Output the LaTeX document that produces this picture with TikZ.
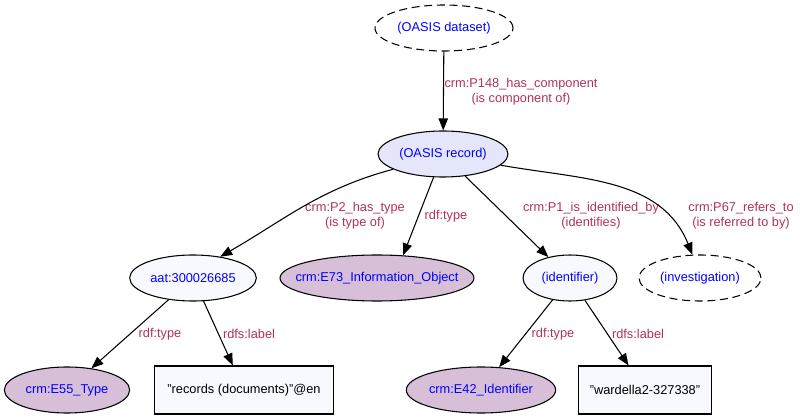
\documentclass[tikz,border=0pt]{standalone}
\usepackage{fontspec}
\setmainfont{Liberation Sans}
\usetikzlibrary{shapes.geometric,arrows.meta}
\definecolor{lbl}{HTML}{B03060}
\definecolor{recfill}{HTML}{E6E6FA}
\definecolor{ghost}{HTML}{F8F8FF}
\definecolor{thist}{HTML}{D8BFD8}
\tikzset{
  every node/.style={font=\fontsize{9.6}{11.25}\selectfont},
  ent/.style={ellipse, draw=black, line width=0.8pt, text=blue, inner sep=0pt, minimum height=34.5pt,
    execute at begin node={\hbox to 0pt\bgroup\hss}, execute at end node={\hss\egroup}},
  dashent/.style={ent, dash pattern=on 6pt off 3.5pt},
  cls/.style={ent, fill=thist},
  inst/.style={ent, fill=ghost},
  litbox/.style={rectangle, draw=black, line width=0.8pt, fill=ghost, text=black, inner sep=0pt, minimum height=36pt},
  elabel/.style={text=lbl, align=center, inner sep=1pt},
  edge/.style={draw=black, line width=0.8pt, -{Triangle[length=9pt,width=7pt]}}
}
\begin{document}
\begin{tikzpicture}[x=0.75pt,y=-0.75pt]
\useasboundingbox (0,0) rectangle (800,420);
% nodes
\node[dashent, minimum width=103.5pt] (ds) at (444,28) {(OASIS dataset)};
\node[ent, fill=recfill, minimum width=97.5pt] (rec) at (443,154) {(OASIS record)};
\node[inst, minimum width=95pt] (aat) at (193,278) {aat:300026685};
\node[cls, minimum width=145.5pt] (e73) at (377,278) {crm:E73\_Information\_Object};
\node[inst, minimum width=70.5pt] (ident) at (570,278) {(identifier)};
\node[dashent, minimum width=91.5pt] (inv) at (700,278) {(investigation)};
\node[cls, minimum width=94pt] (e55) at (67,390) {crm:E55\_Type};
\node[litbox, minimum width=134pt] (reclab) at (244,390) {"records (documents)"@en};
\node[cls, minimum width=112pt] (e42) at (481,390) {crm:E42\_Identifier};
\node[litbox, minimum width=100pt] (idlab) at (645,390) {"wardella2-327338"};
% edge labels
\node[elabel] (l1) at (521,92) {crm:P148\_has\_component\\(is component of)};
\node[elabel] (l2) at (355,216) {crm:P2\_has\_type\\(is type of)};
\node[elabel] (l3) at (446,216) {rdf:type};
\node[elabel] (l4) at (591,216) {crm:P1\_is\_identified\_by\\(identifies)};
\node[elabel] (l5) at (741,216) {crm:P67\_refers\_to\\(is referred to by)};
\node[elabel] (l6) at (160,334) {rdf:type};
\node[elabel] (l7) at (249,334) {rdfs:label};
\node[elabel] (l8) at (553,334) {rdf:type};
\node[elabel] (l9) at (638,334) {rdfs:label};
% edges
\draw[edge] (ds) -- (rec);
\draw[edge] (rec.197) to[out=195,in=30] (aat.38);
\draw[edge] (rec.248) -- (e73.41);
\draw[edge] (rec.315) -- (ident.136);
\draw[edge] (rec.349) to[out=-10,in=112] (inv.108);
\draw[edge] (aat) -- (e55);
\draw[edge] (aat) -- (reclab);
\draw[edge] (ident) -- (e42);
\draw[edge] (ident) -- (idlab);
\end{tikzpicture}
\end{document}
